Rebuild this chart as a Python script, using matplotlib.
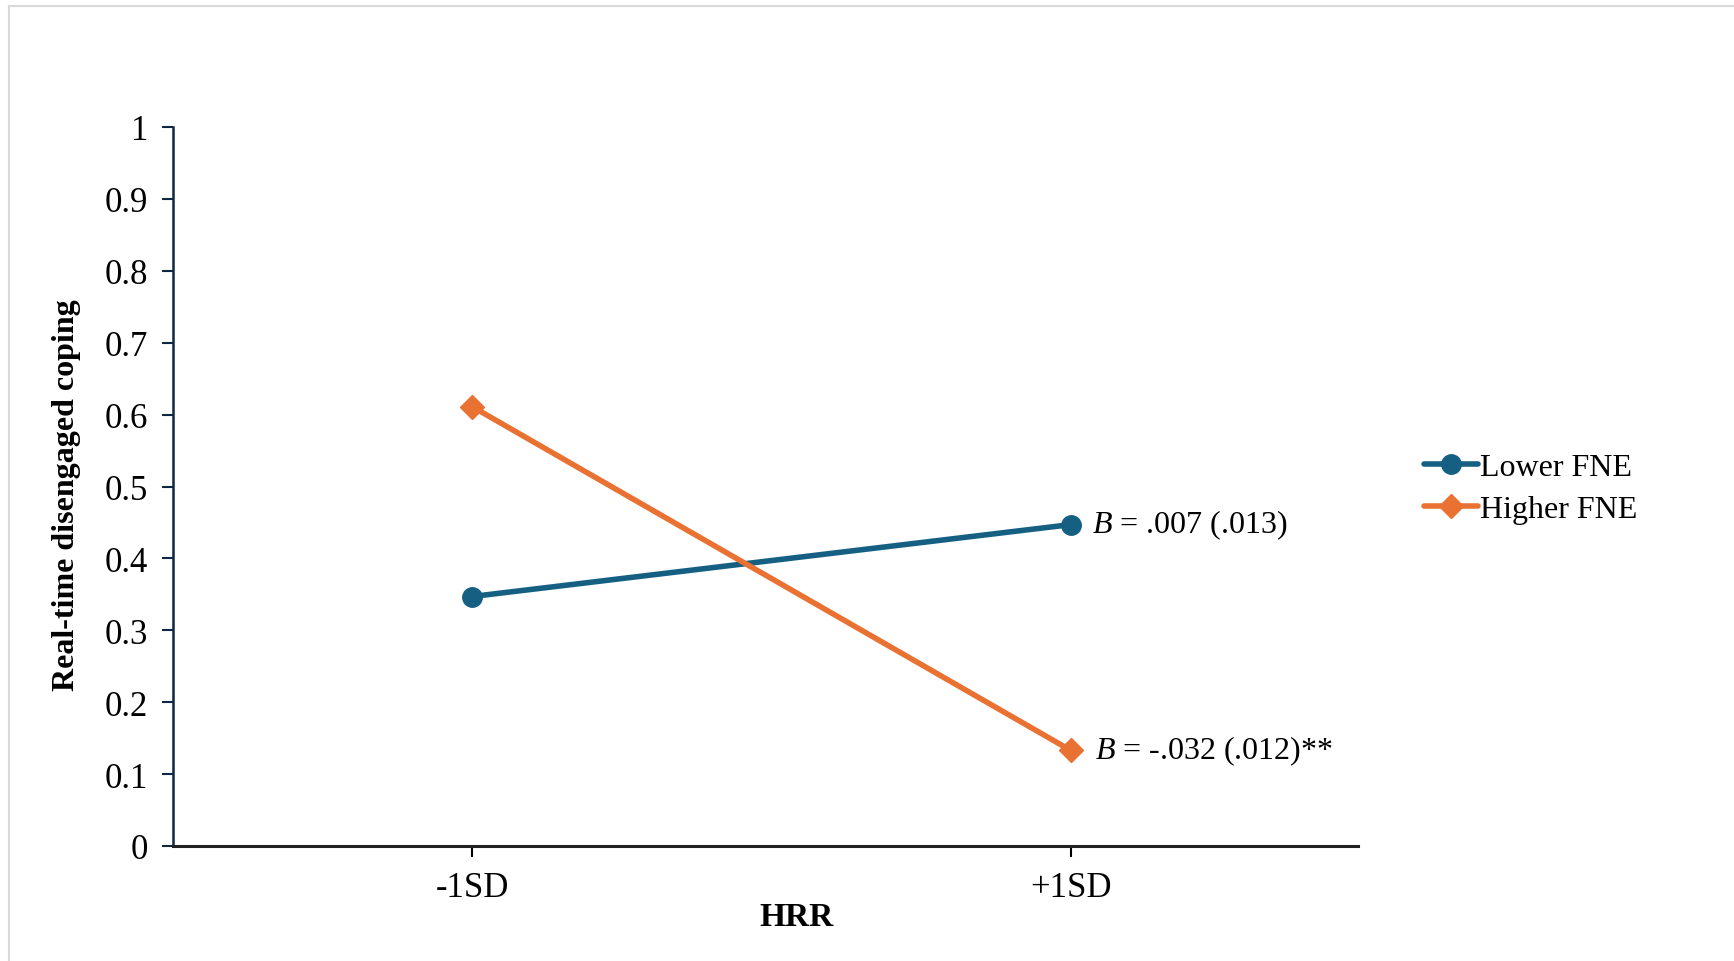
import matplotlib.pyplot as plt
from matplotlib.lines import Line2D

plt.rcParams['font.family'] = ['Liberation Serif', 'DejaVu Serif']
plt.rcParams['mathtext.fontset'] = 'custom'
plt.rcParams['mathtext.it'] = 'Liberation Serif:italic'
plt.rcParams['mathtext.rm'] = 'Liberation Serif'

# simple slopes of HRR on disengaged coping
hrr_levels = ['-1SD', '+1SD']
lower_fne = [0.347, 0.447]
higher_fne = [0.611, 0.133]
slope_labels = ['.007 (.013)', '-.032 (.012)**']
y_ticks = [0, 0.1, 0.2, 0.3, 0.4, 0.5, 0.6, 0.7, 0.8, 0.9, 1]
y_tick_labels = ['0', '0.1', '0.2', '0.3', '0.4', '0.5', '0.6', '0.7', '0.8', '0.9', '1']

blue = '#156082'
orange = '#E97132'

fig = plt.figure(figsize=(17.34, 9.62), dpi=100)
ax = fig.add_axes([173 / 1734, 1 - 847 / 962, (1358 - 173) / 1734, (847 - 128) / 962])

x = range(len(hrr_levels))
ax.plot(x, lower_fne, color=blue, lw=4, marker='o', ms=14, label='Lower FNE',
        solid_capstyle='round')
ax.plot(x, higher_fne, color=orange, lw=4, marker='D', ms=12, label='Higher FNE',
        solid_capstyle='round')

ax.text(1.035, lower_fne[1], r'$\it{B}$' + ' = ' + slope_labels[0], fontsize=23,
        va='center', ha='left')
ax.text(1.04, higher_fne[1], r'$\it{B}$' + ' = ' + slope_labels[1], fontsize=23,
        va='center', ha='left')

ax.set_xlim(-0.5, 1.48)
ax.set_ylim(0, 1)
ax.set_xticks(list(x))
ax.set_xticklabels(hrr_levels)
ax.set_yticks(y_ticks)
ax.set_yticklabels(y_tick_labels)
ax.tick_params(axis='both', labelsize=25, length=8, width=1.5, direction='out', pad=10)
ax.tick_params(axis='y', colors='#0E2841', labelcolor='black')

for side in ['top', 'right']:
    ax.spines[side].set_visible(False)
ax.spines['left'].set_color('#0E2841')
ax.spines['left'].set_linewidth(1.8)
ax.spines['bottom'].set_color('#222222')
ax.spines['bottom'].set_linewidth(2.2)

ax.set_xlabel('HRR', fontsize=24, fontweight='bold')
ax.xaxis.set_label_coords(0.526, -0.076)
ax.set_ylabel('Real-time disengaged coping', fontsize=23, fontweight='bold')
ax.yaxis.set_label_coords(-0.078, 0.49)

ax.legend(loc='center left', bbox_to_anchor=(1.045, 0.497), frameon=False, fontsize=23,
          handlelength=1.7, handletextpad=0.05, labelspacing=0.4, borderaxespad=0)

# light frame around the chart area
fig.add_artist(Line2D([9 / 1734, 9 / 1734], [0, 1 - 7 / 962], color='#d9d9d9', lw=1.5))
fig.add_artist(Line2D([9 / 1734, 1], [1 - 7 / 962, 1 - 7 / 962], color='#d9d9d9', lw=1.5))

fig.savefig('out.png', dpi=100, facecolor='white')
